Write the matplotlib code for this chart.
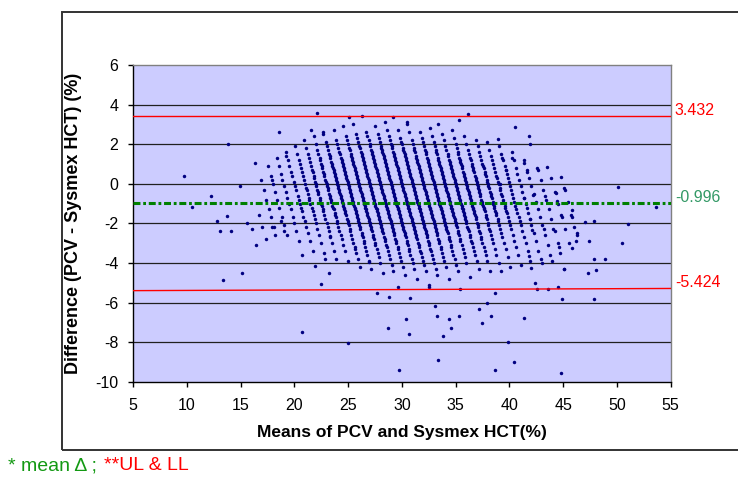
import matplotlib.pyplot as plt
from matplotlib.patches import Rectangle

plt.rcParams['font.family'] = ['Liberation Sans', 'DejaVu Sans']
plt.rcParams['lines.scale_dashes'] = False
plt.rcParams['axes.unicode_minus'] = False

# ---------------------------
# DATA
# ---------------------------
# each diagonal stripe is one PCV value (integer %), Sysmex HCT reads in 0.1 steps
# so list the differences (PCV - HCT) per stripe, in tenths of %
d17 = [2, -3, -8, -13, -17, -22]
d18 = [9, 4, 0, -4, -8, -12, -17, -21, -26]
d19 = [13, 9, 5, 2, -1, -4, -7, -10, -13, -17, -20, -24, -29]
d20 = [16, 12, 9, 6, 4, 1, -1, -3, -6, -8, -10, -12, -14, -17, -19, -22, -25, -29, -34]
d21 = [19, 15, 12, 10, 8, 6, 4, 2, 0, -2, -3, -5, -7, -8, -10, -12, -14, -16, -18, -20,
       -23, -26, -30, -35]
d22 = [22, 18, 15, 13, 11, 9, 7, 6, 4, 3, 1, 0, -1, -3, -4, -5, -7, -8, -10, -11, -13,
       -14, -16, -18, -20, -22, -24, -27, -30, -34, -38]
d23 = [24, 20, 17, 15, 13, 12, 10, 9, 8, 6, 5, 4, 2, 1, 0, -1, -2, -3, -5, -6, -7, -8,
       -9, -11, -12, -13, -15, -16, -17, -19, -20, -22, -24, -26, -28, -31, -34, -39]
d24 = [26, 21, 19, 17, 15, 14, 13, 11, 10, 9, 8, 7, 6, 5, 4, 3, 2, 1, 0, -1, -2, -3, -4,
       -5, -6, -7, -8, -9, -10, -11, -12, -13, -14, -15, -16, -18, -19, -20, -21, -23,
       -24, -26, -28, -30, -32, -35, -38, -42]
d25 = [27, 22, 20, 18, 16, 15, 13, 12, 11, 10, 9, 8, 7, 6, 5, 4, 3, 2, 1, 0, -1, -2,
       -3, -4, -5, -6, -7, -8, -9, -10, -11, -12, -13, -14, -15, -16, -17, -18, -19, -20,
       -21, -22, -23, -25, -26, -27, -29, -30, -32, -34, -36, -39, -43]
d26 = [29, 24, 22, 20, 18, 17, 15, 14, 13, 12, 11, 10, 9, 8, 7, 6, 5, 4, 3, 2, 1, 0,
       -1, -2, -3, -4, -5, -6, -7, -8, -9, -10, -11, -12, -13, -14, -15, -16, -17, -18,
       -19, -20, -21, -22, -23, -24, -26, -27, -28, -30, -31, -33, -35, -37, -40, -45]
d27 = [30, 25, 23, 21, 19, 18, 16, 15, 14, 13, 12, 11, 10, 9, 8, 7, 6, 5, 4, 3, 2, 1,
       0, -1, -2, -3, -4, -5, -6, -7, -8, -9, -10, -11, -12, -13, -14, -15, -16, -17, -18,
       -19, -20, -21, -22, -23, -24, -25, -27, -28, -29, -31, -32, -34, -36, -38, -41, -44,
       -52]
d28 = [34, 26, 24, 22, 20, 19, 17, 16, 15, 14, 13, 12, 11, 10, 9, 8, 7, 6, 5, 4, 3, 2,
       1, 0, -1, -2, -3, -4, -5, -6, -7, -8, -9, -10, -11, -12, -13, -14, -15, -16, -17,
       -18, -19, -20, -21, -22, -23, -24, -25, -26, -28, -29, -30, -32, -33, -35, -37, -39,
       -42, -46]
d29 = [29, 25, 23, 21, 19, 18, 17, 16, 15, 14, 13, 12, 11, 10, 9, 8, 7, 6, 5, 4,
       3, 2, 1, 0, -1, -2, -3, -4, -5, -6, -7, -8, -9, -10, -11, -12, -13, -14, -15, -16,
       -17, -18, -19, -20, -21, -22, -23, -24, -25, -26, -27, -29, -30, -31, -33, -34, -36,
       -38, -40, -43, -48]
d30 = [31, 27, 24, 22, 20, 19, 18, 16, 15, 14, 13, 12, 11, 10, 9, 8, 7, 6, 5, 4, 3, 2,
       1, 0, -1, -2, -3, -4, -5, -6, -7, -8, -9, -10, -11, -12, -13, -14, -15, -16, -17,
       -18, -19, -20, -21, -22, -23, -24, -25, -26, -27, -28, -30, -31, -32, -34, -35, -37,
       -39, -41, -44, -51]
d31 = [27, 23, 21, 20, 18, 17, 16, 15, 14, 13, 12, 11, 10, 9, 8, 7, 6, 5, 4, 3, 2,
       1, 0, -1, -2, -3, -4, -5, -6, -7, -8, -9, -10, -11, -12, -13, -14, -15, -16, -17,
       -18, -19, -20, -21, -22, -23, -24, -25, -26, -27, -29, -30, -31, -33, -34, -36, -38,
       -40, -43, -46]
d32 = [30, 26, 22, 20, 18, 17, 16, 14, 13, 12, 11, 10, 9, 8, 7, 6, 5, 4, 3, 2, 1, 0,
       -1, -2, -3, -4, -5, -6, -7, -8, -9, -10, -11, -12, -13, -14, -15, -16, -17, -18, -19,
       -20, -21, -22, -23, -24, -25, -26, -28, -29, -30, -32, -33, -35, -37, -39, -42, -48]
d33 = [26, 23, 21, 19, 17, 16, 15, 13, 12, 11, 10, 9, 8, 7, 6, 5, 4, 3, 2, 1, 0, -1,
       -2, -3, -4, -5, -6, -7, -8, -9, -10, -11, -12, -13, -14, -15, -16, -17, -18, -19,
       -20, -21, -22, -23, -24, -25, -27, -28, -29, -31, -32, -34, -36, -38, -41, -44]
d34 = [28, 24, 21, 19, 17, 16, 15, 13, 12, 11, 10, 9, 8, 7, 6, 5, 4, 3, 2, 1, 0, -1, -2,
       -3, -4, -5, -6, -7, -8, -9, -10, -11, -12, -13, -14, -15, -16, -17, -18, -19, -20,
       -21, -22, -24, -25, -26, -28, -29, -31, -33, -35, -37, -40, -47]
d35 = [25, 22, 19, 17, 15, 14, 12, 11, 10, 9, 8, 7, 6, 5, 4, 3, 2, 1, 0, -1, -2, -3,
       -4, -5, -6, -7, -8, -9, -10, -11, -12, -13, -14, -15, -16, -17, -18, -19, -20, -22,
       -23, -24, -26, -27, -29, -30, -32, -34, -36, -39, -43]
d36 = [27, 23, 20, 18, 16, 15, 13, 12, 11, 10, 9, 8, 6, 5, 4, 3, 2, 1, 0, -1, -2, -3, -4,
       -5, -6, -7, -8, -9, -10, -11, -12, -13, -14, -15, -16, -17, -18, -20, -21, -22, -24,
       -25, -27, -28, -30, -32, -34, -36, -39, -44]
d37 = [24, 20, 17, 15, 13, 12, 10, 9, 8, 7, 6, 4, 3, 2, 1, 0, -1, -2, -3, -4, -5, -6,
       -8, -9, -10, -11, -12, -13, -14, -16, -17, -18, -20, -21, -23, -24, -26, -28, -30,
       -33, -36, -40, -44]
d38 = [22, 19, 16, 14, 12, 10, 9, 8, 6, 5, 4, 2, 1, 0, -1, -2, -4, -5, -6, -7, -9, -10,
       -11, -12, -14, -15, -16, -18, -19, -21, -23, -25, -27, -30, -33, -37, -42]
d39 = [21, 17, 14, 12, 10, 8, 6, 4, 3, 1, 0, -2, -3, -5, -6, -8, -9, -11, -12, -14, -15,
       -17, -19, -21, -23, -26, -29, -32, -36, -41]
d40 = [19, 15, 12, 9, 7, 5, 3, 1, -1, -3, -5, -7, -9, -11, -13, -15, -17, -19, -21, -24,
       -27, -30, -34, -39]
d41 = [16, 12, 8, 5, 2, -1, -4, -7, -10, -12, -15, -18, -21, -25, -29, -34, -38]
d42 = [12, 7, 3, -1, -5, -9, -13, -17, -21, -26, -31, -36]
d43 = [8, 2, -3, -8, -13, -18, -24, -30, -35]
d44 = [3, -4, -10, -16, -23, -30]
d45 = [-2, -9, -17, -25]

pcv = [17, 18, 19, 20, 21, 22, 23, 24, 25, 26, 27, 28, 29, 30, 31,
       32, 33, 34, 35, 36, 37, 38, 39, 40, 41, 42, 43, 44, 45]
stripes = [d17, d18, d19, d20, d21, d22, d23, d24, d25, d26, d27, d28, d29, d30, d31,
           d32, d33, d34, d35, d36, d37, d38, d39, d40, d41, d42, d43, d44, d45]

# scattered points away from the stripes (mean, difference)
out_mean = [9.75, 10.5, 12.23, 13.87, 14.96, 16.33, 13.72, 16.76, 18.6, 19.2, 17.88, 21.57,
            22.1, 22.7, 25.1, 12.85, 13.1, 14.1, 13.35, 15.1, 16.1, 16.48, 17.0, 17.36,
            17.97, 18.2, 18.8, 19.03, 20.7, 20.7, 21.97, 22.44, 23.2, 22.85, 23.34, 24.96,
            25.6, 26.95, 27.7, 28.7, 29.7, 30.4, 30.7, 33.05, 33.3, 33.8, 33.4, 34.4,
            34.55, 35.3, 37.15, 37.5, 37.9, 38.3, 38.64, 39.9, 40.4, 41.4, 44.76, 44.88,
            47.9, 28.8, 30.8, 32.56, 35.45, 38.64, 42.6, 43.6, 44.5, 45.06, 47.3, 48.1,
            47.9, 48.9, 47.4, 47.0, 47.9, 46.3, 45.8, 44.6, 44.0, 43.0, 44.1, 44.9, 45.8,
            50.1, 44.8, 45.2, 44.3, 43.27, 43.5, 42.64, 41.65, 41.4, 41.78, 41.9, 40.5,
            38.9, 39.3, 40.26, 39.64, 39.1, 36.16, 35.3, 33.4, 30.45, 29.2, 53.6, 51.0,
            50.5, 46.0, 43.2, 42.1, 41.9, 41.4, 42.2, 44.4, 42.0, 41.8, 42.4, 45.1, 15.6,
            45.75, 46.2]
out_diff = [0.4, -1.18, -0.61, 2.02, -0.1, 1.04, -1.64, -1.57, 2.6, 1.38, 0.2, 2.72,
            3.6, 2.52, 3.37, -1.89, -2.38, -2.38, -4.85, -4.5, -2.31, -3.08, -2.2, -2.8,
            -2.16, -2.6, -1.89, -2.38, -3.6, -7.5, -4.15, -5.07, -4.5, -3.8, -2.66, -8.05,
            -3.28, -3.97, -5.5, -7.3, -9.4, -6.84, -7.58, -6.2, -6.7, -7.7, -8.9, -6.84,
            -7.27, -6.7, -6.33, -7.06, -6.0, -6.7, -9.4, -7.98, -9.0, -6.77, -9.55, -5.84,
            -5.84, -5.7, -5.78, -5.2, -5.3, -5.5, -5.3, -5.3, -5.2, -4.3, -4.5, -4.36,
            -3.82, -3.79, -2.88, -1.95, -1.87, -2.6, -3.27, -3.17, -3.9, -4.0, -2.3, -1.7,
            -1.35, -0.17, 0.33, -0.3, -0.45, -0.6, 0.87, 0.7, 0.57, 1.04, 2.39, 2.02, 2.88,
            2.25, 1.28, 1.31, 0.71, 0.0, 3.54, 3.23, 3.03, 3.1, 3.37, -1.16, -2.02,
            -3.0, -2.16, -2.3, -2.36, -1.77, -0.74, -0.59, -0.88, -4.28, -3.64, -5.0, -4.3,
            -2.0, -1.6, -2.9]

mean_diff = -0.996
ul_y = [3.432, 3.432]
ll_y = [-5.40, -5.29]
line_x = [5, 55]

# ---------------------------
# BUILD POINTS
# ---------------------------
means, diffs = [], []
for p, ds in zip(pcv, stripes):
    for d in ds:
        diffs.append(d / 10)
        means.append(p - d / 20)   # mean = (PCV + HCT) / 2, HCT = PCV - diff
means += out_mean
diffs += out_diff

# ---------------------------
# PLOT
# ---------------------------
fig = plt.figure(figsize=(7.38, 4.78), dpi=100)
ax = fig.add_axes([0.1802, 0.2015, 0.7286, 0.6625])
ax.set_facecolor('#CCCCFF')

for y in [-8, -6, -4, -2, 0, 2, 4]:
    ax.axhline(y, color='#202020', lw=0.9, zorder=1)

ax.plot(means, diffs, 'o', ms=2.5, color='#000080', mec='none', zorder=2)

ax.plot(line_x, ul_y, color='#FF0000', lw=1.0, zorder=3)
ax.plot(line_x, ll_y, color='#FF0000', lw=1.0, zorder=3)
ax.plot(line_x, [mean_diff, mean_diff], color='#008000', lw=2.2,
        dashes=(5, 2, 2, 2), zorder=4)

ax.set_xlim(5, 55)
ax.set_ylim(-10, 6)
ax.set_xticks(range(5, 56, 5))
ax.set_yticks(range(-10, 7, 2))
ax.tick_params(direction='out', length=3.6, width=1, labelsize=11.5, colors='black')
ax.tick_params(axis='y', pad=7)
ax.tick_params(axis='x', pad=8)

for side in ['left', 'bottom']:
    ax.spines[side].set_color('black')
    ax.spines[side].set_linewidth(1)
for side in ['top', 'right']:
    ax.spines[side].set_color('#808080')
    ax.spines[side].set_linewidth(1)

ax.set_xlabel("Means of PCV and Sysmex HCT(%)", fontsize=12.5, fontweight='bold')
ax.set_ylabel("Difference (PCV - Sysmex HCT) (%)", fontsize=13, fontweight='bold')
ax.xaxis.set_label_coords(0.5, -0.137)
ax.yaxis.set_label_coords(-0.095, 0.5)

# values next to the lines
for val, txt, col in [(ul_y[1], '3.432', '#FF0000'),
                      (mean_diff, '-0.996', '#339966'),
                      (ll_y[1], '-5.424', '#FF0000')]:
    ax.annotate(txt, xy=(1, val), xycoords=('axes fraction', 'data'),
                xytext=(3, 4), textcoords='offset points', va='center', ha='left',
                fontsize=11.5, color=col, annotation_clip=False)

# chart area frame (runs off the right edge like the original)
fig.add_artist(Rectangle((62 / 738, 1 - 450 / 478), 1.0, 438 / 478,
                         transform=fig.transFigure, fill=False,
                         edgecolor='#333333', lw=1.4))

t1 = fig.text(8 / 738, 1 - 466 / 478, '* mean Δ ;', color='#139913',
              fontsize=14, va='center')
ax.annotate('**UL & LL', xy=(1, 0.5), xycoords=t1, xytext=(5, 0),
            textcoords='offset points', va='center', ha='left',
            color='#FF0000', fontsize=14)

fig.savefig('out.png', dpi=100)
